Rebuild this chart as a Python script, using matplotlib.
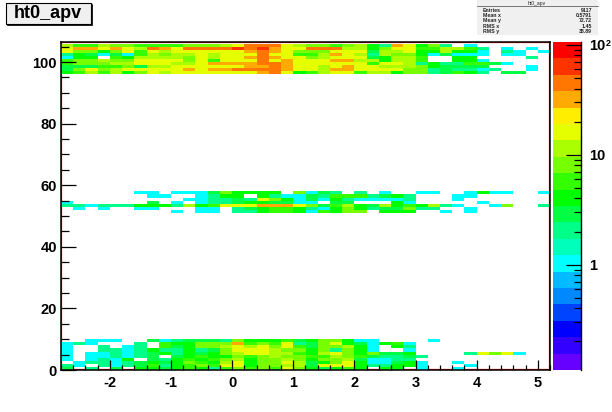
import numpy as np
import matplotlib
matplotlib.use('Agg')
from matplotlib import pyplot as plt
from matplotlib.colors import ListedColormap, BoundaryNorm
from matplotlib.patches import Rectangle
from matplotlib.ticker import MultipleLocator, LogLocator, NullFormatter

plt.rcParams['font.family'] = ['Liberation Sans', 'DejaVu Sans']
plt.rcParams['axes.unicode_minus'] = False

# counts per x bin (40 bins), rows listed from high y to low y
rows_top = [  # y = 105 .. 96
    [10,5,5,10,7,7,5,5,5,5,7,7,7,10,14,38,53,38,14,10, 7,7,5,7,10,4,2,27,14,4,7,2,0,1,0,0,0,0,0,0],
    [14,27,27,14,27,14,10,38,27,14,53,38,53,38,75,38,75,27,19,14, 38,38,38,10,10,4,7,19,14,5,5,10,10,5,2,0,1,0,1,0],
    [14,7,7,4,7,14,5,14,10,14,14,14,14,14,19,27,53,27,14,7, 7,7,19,14,14,3,10,10,14,4,4,10,4,4,1,0,2,1,0,1],
    [2,4,3,1,3,1,5,10,7,10,10,14,10,19,19,19,38,19,19,5, 5,10,27,14,10,2,10,7,7,4,1,3,1,1,1,0,1,1,0,0],
    [1,4,4,0,5,4,10,10,10,10,7,14,10,19,19,27,38,27,19,14, 7,10,14,14,14,3,4,10,10,5,0,0,4,4,0,0,0,0,2,0],
    [5,7,7,10,7,7,14,14,14,14,7,14,5,19,19,19,38,19,27,19, 19,14,27,27,10,10,4,10,10,5,0,0,4,4,1,0,0,0,0,0],
    [5,7,7,7,10,10,14,14,19,10,10,19,27,27,27,27,53,38,27,19, 19,14,14,14,19,5,14,14,10,2,4,2,2,5,5,3,1,0,0,0],
    [3,3,3,5,5,7,3,10,10,14,14,19,19,19,19,27,27,38,27,19, 14,10,14,27,14,19,10,10,10,7,4,3,3,3,3,0,0,0,1,0],
    [3,7,14,7,10,14,14,19,19,19,27,19,27,27,38,38,38,38,27,14, 14,10,27,27,19,14,14,14,7,7,2,3,2,2,1,2,0,0,1,0],
    [4,5,10,5,10,4,7,14,10,14,14,19,19,19,19,14,27,38,14,4, 5,10,19,19,5,10,10,4,7,7,2,3,5,4,2,0,3,3,0,0],
]
rows_mid = [  # y = 57 .. 51
    [0,0,0,0,0,0,1,1,0,1,1,1,3,7,4,4,4,4,0,7, 1,3,2,0,2,0,1,0,0,1,1,0,0,1,4,1,1,0,0,1],
    [0,0,0,0,0,0,0,1,1,0,0,1,2,4,4,0,4,2,1,1, 3,2,5,5,5,2,3,4,2,0,0,0,1,1,0,0,0,0,0,0],
    [0,0,0,0,0,0,0,0,0,0,1,1,2,2,3,2,14,7,4,1, 3,1,4,2,1,1,1,1,2,0,0,0,1,0,0,0,0,0,0,0],
    [1,0,0,0,0,0,0,3,0,1,0,1,2,2,3,4,4,3,3,1, 1,0,3,3,0,0,0,4,1,0,0,0,0,0,1,0,0,0,0,0],
    [2,2,1,2,2,2,4,4,4,2,10,4,5,14,14,14,27,27,27,14, 7,3,5,10,4,3,10,4,5,4,10,2,1,0,0,1,7,0,0,2],
    [0,1,0,1,0,0,1,1,0,0,0,1,1,0,2,3,4,5,5,4, 2,1,4,7,4,2,3,3,7,2,2,0,0,1,0,0,0,0,0,0],
    [0,0,0,0,0,0,0,0,0,1,0,1,1,0,2,2,4,5,5,4, 1,5,4,7,7,0,4,4,4,0,0,1,0,1,0,0,0,0,0,0],
]
rows_low = [  # y = 9 .. 0
    [0,0,1,1,1,0,0,3,1,2,3,3,3,2,7,4,4,4,5,3, 4,7,7,4,1,1,0,0,0,0,1,0,0,0,0,0,0,0,0,0],
    [1,2,1,0,0,0,2,0,5,4,4,7,7,7,27,5,7,5,14,2, 3,7,14,4,3,1,4,5,1,0,0,0,0,0,0,0,0,0,0,0],
    [1,0,0,2,0,1,2,0,5,3,4,7,7,10,14,10,14,7,14,5, 3,7,7,10,4,1,0,4,2,0,0,0,0,0,0,0,0,0,0,0],
    [1,0,0,2,2,1,2,4,2,2,4,2,3,7,14,14,19,10,7,7, 4,7,2,7,4,1,0,0,1,0,0,0,0,0,0,0,0,0,0,0],
    [1,0,1,1,2,1,2,3,4,2,4,3,4,7,10,14,19,10,10,5, 4,10,14,7,4,7,3,3,4,0,0,0,0,2,19,7,14,1,0,0],
    [1,0,1,1,2,1,2,3,0,3,4,5,4,4,7,5,7,10,7,7, 5,5,10,7,5,3,2,2,3,2,0,0,0,0,0,0,0,0,0,0],
    [1,0,1,2,1,4,0,3,2,4,5,4,5,7,10,4,7,7,10,7, 4,7,7,10,3,1,1,2,2,0,0,0,0,0,0,0,0,0,0,0],
    [0,1,2,2,1,2,3,4,3,4,7,5,4,10,14,4,7,7,14,10, 3,4,7,14,4,1,1,3,4,1,0,0,1,0,0,0,0,0,0,0],
    [2,1,0,2,1,2,3,5,2,4,5,7,5,14,14,4,7,7,10,10, 3,14,14,19,4,2,2,4,4,1,0,0,0,1,0,0,0,0,0,0],
    [3,0,2,0,3,0,4,4,3,4,5,4,2,5,7,5,7,5,14,7, 4,3,4,5,4,0,4,4,0,1,0,0,1,0,0,0,0,0,0,0],
]
y_top = 105
y_mid = 57
y_low = 9

palette = ['#6600ff', '#3300ff', '#0000ff', '#0044ff', '#0088ff', '#00bbff', '#00ffff',
           '#00ffbb', '#00ff88', '#00ff44', '#00ff00', '#33ff00', '#77ff00', '#aaff00',
           '#e5ff00', '#ffee00', '#ffaa00', '#ff7700', '#ff3300', '#ff0000']
z_min = 0.11
z_max = 106.0

stats_names = ['Entries', 'Mean x', 'Mean y', 'RMS x', 'RMS y']
stats_values = ['9117', '0.5791', '72.72', '1.45', '38.89']

W, H = 612, 412
fig = plt.figure(figsize=(W / 100, H / 100), dpi=100)


def px_axes(x0, y0, x1, y1):
    return fig.add_axes([x0 / W, 1 - y1 / H, (x1 - x0) / W, (y1 - y0) / H])


# fill the 2d histogram
counts = np.zeros((107, 40))
for first, rows in [(y_top, rows_top), (y_mid, rows_mid), (y_low, rows_low)]:
    for i, row in enumerate(rows):
        counts[first - i] = row

x_edges = np.linspace(-2.8, 5.2, 41)
y_edges = np.arange(108)
levels = np.geomspace(z_min, z_max, 21)
cmap = ListedColormap(palette)
norm = BoundaryNorm(levels, cmap.N)

ax = px_axes(61, 42, 550, 370)
ax.add_patch(Rectangle((-2.8, 0), 8.0, 106.5, fill=False, ec='#ff0000', lw=1.6, zorder=0.5))
ax.pcolormesh(x_edges, y_edges, np.ma.masked_equal(counts, 0), cmap=cmap, norm=norm, zorder=1)
ax.set_xlim(-2.8, 5.2)
ax.set_ylim(0, 106.5)
ax.set_axisbelow(False)
ax.xaxis.set_major_locator(MultipleLocator(1))
ax.xaxis.set_minor_locator(MultipleLocator(0.2))
ax.yaxis.set_major_locator(MultipleLocator(20))
ax.yaxis.set_minor_locator(MultipleLocator(5))
ax.tick_params(axis='x', which='major', direction='in', length=7.2, width=0.9, pad=4, labelsize=10.5)
ax.tick_params(axis='x', which='minor', direction='in', length=3.6, width=0.9)
ax.tick_params(axis='y', which='major', direction='in', length=10.8, width=0.9, pad=3, labelsize=10.5)
ax.tick_params(axis='y', which='minor', direction='in', length=5.4, width=0.9)
for lab in ax.get_xticklabels() + ax.get_yticklabels():
    lab.set_fontweight('bold')
for sp in ax.spines.values():
    sp.set_linewidth(1.1)

# palette bar
cax = px_axes(553, 42, 581, 370)
mids = np.sqrt(levels[:-1] * levels[1:])
cax.pcolormesh([0, 1], levels, mids.reshape(-1, 1), cmap=cmap, norm=norm)
cax.set_yscale('log')
cax.set_ylim(z_min, z_max)
cax.set_xticks([])
for name in ['left', 'top', 'bottom']:
    cax.spines[name].set_visible(False)
cax.spines['right'].set_linewidth(1.0)
cax.yaxis.tick_right()
cax.yaxis.set_minor_locator(LogLocator(base=10, subs=np.arange(2, 10), numticks=12))
cax.yaxis.set_minor_formatter(NullFormatter())
cax.set_yticks([1, 10, 100])
cax.set_yticklabels(['1', '10', '10'], fontweight='bold', fontsize=10.5)
cax.tick_params(axis='y', which='major', direction='in', length=10.8, width=0.9, pad=5.5)
cax.tick_params(axis='y', which='minor', direction='in', length=5.4, width=0.9)
fig.text(605.5 / W, 1 - 43 / H, '2', fontsize=6.5, fontweight='bold', ha='left', va='center')

# title box with shadow
fig.add_artist(Rectangle((7 / W, 1 - 25 / H), 85 / W, 21 / H, transform=fig.transFigure,
                         fc='black', ec='black', lw=0.5))
fig.add_artist(Rectangle((6 / W, 1 - 23.5 / H), 84.5 / W, 20.5 / H, transform=fig.transFigure,
                         fc='#f0f0f0', ec='black', lw=0.8))
fig.text(48 / W, 1 - 13.5 / H, 'ht0_apv', fontsize=13, fontweight='bold', ha='center', va='center')

# stats box
fig.add_artist(Rectangle((477 / W, 1 - 35 / H), 121 / W, 35 / H, transform=fig.transFigure,
                         fc='#f0f0f0', ec='none'))
fig.add_artist(plt.Line2D([477 / W, 598 / W], [1 - 6 / H, 1 - 6 / H], color='#444444', lw=0.5,
                          transform=fig.transFigure))
fig.text(537 / W, 1 - 3 / H, 'ht0_apv', fontsize=3.6, ha='center', va='center', color='#222222')
stats_y = [10.5, 15.5, 20.5, 26, 31.5]
for name, val, yy in zip(stats_names, stats_values, stats_y):
    fig.text(483 / W, 1 - yy / H, name, fontsize=3.8, fontweight='bold', ha='left', va='center', color='#222222')
    fig.text(592 / W, 1 - yy / H, val, fontsize=3.8, fontweight='bold', ha='right', va='center', color='#222222')

fig.savefig('out.png', dpi=100)
